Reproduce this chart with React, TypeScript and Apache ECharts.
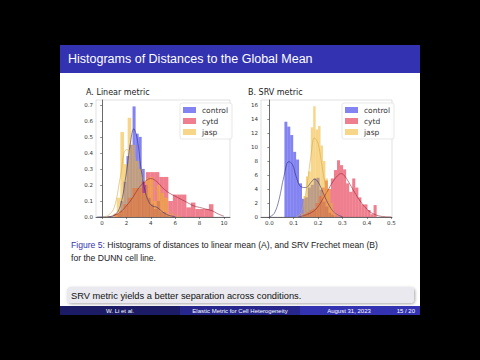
import React, { useEffect, useRef } from 'react';
import * as echarts from 'echarts';

// ---------- data ----------
const seriesNames = ['control', 'cytd', 'jasp'];

// Panel A: Linear metric (density)
const aCtlEdges = [1.25, 1.5, 1.75, 2.0, 2.25, 2.5, 2.75, 3.0, 3.25, 3.5, 3.75, 4.0, 4.25, 4.5, 4.75, 5.0, 5.25];
const aCtlHeights = [0.02, 0.1, 0.22, 0.38, 0.45, 0.69, 0.52, 0.5, 0.3, 0.2, 0.12, 0.08, 0.05, 0.1, 0.03, 0.03, 0.01];
const aCtlWidth = 0.25;

const aCytEdges = [1.0, 1.37, 1.74, 2.11, 2.48, 2.85, 3.22, 3.59, 3.96, 4.33, 4.7, 5.07, 5.44, 5.81, 6.18, 6.55, 6.92, 7.29, 7.66, 8.03, 8.4, 8.77];
const aCytHeights = [0.02, 0.04, 0.08, 0.12, 0.18, 0.18, 0.22, 0.28, 0.28, 0.28, 0.25, 0.25, 0.1, 0.14, 0.14, 0.14, 0.06, 0.09, 0.05, 0.05, 0.05, 0.08];
const aCytWidth = 0.37;

const aJasEdges = [0.9, 1.2, 1.5, 1.8, 2.1, 2.4, 2.7, 3.0, 3.3, 3.6, 3.9, 4.2, 4.5, 4.8, 5.1, 5.4];
const aJasHeights = [0.02, 0.12, 0.53, 0.33, 0.62, 0.45, 0.35, 0.3, 0.15, 0.24, 0.25, 0.1, 0.2, 0.15, 0.12, 0.02];
const aJasWidth = 0.3;

const aCtlKde = [[-0.4, 0], [0.5, 0.002], [1, 0.01], [1.5, 0.07], [2, 0.28], [2.3, 0.45], [2.6, 0.55], [2.9, 0.48], [3.2, 0.3], [3.5, 0.17], [3.8, 0.1], [4.1, 0.07], [4.5, 0.06], [5, 0.03], [5.5, 0.01], [6, 0.002]];
const aCytKde = [[0.5, 0], [1, 0.01], [1.5, 0.03], [2, 0.07], [2.5, 0.12], [3, 0.18], [3.5, 0.22], [4, 0.24], [4.5, 0.22], [5, 0.18], [5.5, 0.15], [6, 0.13], [6.5, 0.11], [7, 0.09], [7.5, 0.07], [8, 0.06], [8.5, 0.05], [9, 0.04], [9.5, 0.02], [10, 0.005]];
const aJasKde = [[0, 0], [0.5, 0.01], [1, 0.06], [1.5, 0.25], [2, 0.42], [2.5, 0.4], [3, 0.3], [3.5, 0.22], [4, 0.2], [4.5, 0.16], [5, 0.1], [5.5, 0.04], [6, 0.01], [6.5, 0]];

const aXTicks = [0, 2, 4, 6, 8, 10];
const aYTicks = [0, 0.1, 0.2, 0.3, 0.4, 0.5, 0.6, 0.7];

// Panel B: SRV metric (density)
const bCtlEdges = [0.062, 0.074, 0.086, 0.098, 0.11, 0.122, 0.134, 0.146, 0.158, 0.17, 0.182, 0.194, 0.206, 0.218, 0.23, 0.242, 0.254];
const bCtlHeights = [13.6, 12.9, 11.7, 9.3, 8.2, 4.8, 2.6, 2.8, 4.2, 4.6, 5.5, 5.6, 3.9, 2.2, 1.5, 0.6, 0.3];
const bCtlWidth = 0.012;

const bCytEdges = [0.14, 0.1525, 0.165, 0.1775, 0.19, 0.2025, 0.215, 0.2275, 0.24, 0.2525, 0.265, 0.2775, 0.29, 0.3025, 0.315, 0.3275, 0.34, 0.3525, 0.365, 0.3775, 0.39, 0.4025, 0.415, 0.4275];
const bCytHeights = [0.4, 0.7, 1.0, 1.2, 2.0, 3.0, 4.2, 5.2, 4.0, 5.5, 6.7, 8.1, 7.4, 6.8, 4.8, 3.6, 5.5, 4.2, 2.8, 1.8, 1.8, 1.0, 0.4, 1.7];
const bCytWidth = 0.0125;

const bJasEdges = [0.13, 0.14, 0.15, 0.16, 0.17, 0.18, 0.19, 0.2, 0.21, 0.22, 0.23, 0.24, 0.25, 0.26];
const bJasHeights = [0.5, 3.0, 5.8, 6.5, 12.8, 15.8, 12.5, 13.0, 10.2, 8.0, 5.5, 4.0, 2.0, 0.5];
const bJasWidth = 0.01;

const bCtlKde = [[0, 0], [0.02, 0.5], [0.04, 2.5], [0.06, 5.8], [0.08, 7.9], [0.095, 7.5], [0.11, 5.8], [0.13, 4.3], [0.15, 4.2], [0.17, 4.9], [0.185, 5.4], [0.2, 5.0], [0.22, 3.5], [0.24, 2.0], [0.26, 0.9], [0.28, 0.3], [0.3, 0.05]];
const bCytKde = [[0.12, 0], [0.15, 0.3], [0.18, 0.8], [0.2, 1.5], [0.22, 2.6], [0.24, 3.8], [0.26, 5.0], [0.28, 5.9], [0.295, 6.2], [0.31, 5.8], [0.33, 4.7], [0.35, 3.5], [0.37, 2.4], [0.39, 1.5], [0.41, 0.8], [0.43, 0.4], [0.45, 0.15], [0.48, 0.02], [0.5, 0]];
const bJasKde = [[0.11, 0], [0.13, 0.6], [0.15, 3.5], [0.17, 8.5], [0.185, 11.3], [0.2, 10.5], [0.215, 7.5], [0.23, 4.5], [0.25, 1.8], [0.27, 0.5], [0.29, 0.05]];

const bXTicks = [0, 0.1, 0.2, 0.3, 0.4, 0.5];
const bYTicks = [0, 2, 4, 6, 8, 10, 12, 14, 16];

// ---------- styling ----------
const barColor: Record<string, string> = {
  control: 'rgba(30,30,230,0.55)',
  cytd: 'rgba(225,20,50,0.55)',
  jasp: 'rgba(240,180,40,0.55)',
};
const kdeColor: Record<string, string> = {
  control: 'rgba(40,40,120,0.8)',
  cytd: 'rgba(140,30,45,0.8)',
  jasp: 'rgba(215,170,70,0.85)',
};
const SLIDE_FONT = 'Liberation Sans';
const PLOT_FONT = 'DejaVu Sans';

function histSeries(name: string, edges: number[], heights: number[], width: number, gi: number) {
  const color = barColor[name];
  return {
    type: 'custom',
    name,
    xAxisIndex: gi,
    yAxisIndex: gi,
    itemStyle: { color },
    encode: { x: [0, 1], y: 2 },
    data: edges.map((e, i) => [e, e + width, heights[i]]),
    renderItem: (_p: any, api: any) => {
      const a = api.coord([api.value(0), api.value(2)]);
      const b = api.coord([api.value(1), 0]);
      return {
        type: 'rect',
        shape: { x: a[0], y: a[1], width: b[0] - a[0], height: b[1] - a[1] },
        style: { fill: color },
      };
    },
  };
}

function kdeSeries(name: string, pts: number[][], gi: number) {
  return {
    type: 'line',
    name: name + ' kde',
    xAxisIndex: gi,
    yAxisIndex: gi,
    data: pts,
    smooth: 0.4,
    showSymbol: false,
    symbol: 'none',
    lineStyle: { color: kdeColor[name], width: 0.7 },
    z: 5,
  };
}

function xAxisCfg(gi: number, min: number, max: number, ticks: number[], fmt: (v: number) => string) {
  return {
    type: 'value',
    gridIndex: gi,
    min,
    max,
    axisLine: { show: true, onZero: false, lineStyle: { color: '#444', width: 0.8 } },
    axisTick: { show: true, customValues: ticks, length: 2, lineStyle: { color: '#444', width: 0.6 } },
    axisLabel: { customValues: ticks, formatter: fmt, fontSize: 5.5, color: '#333', margin: 3, fontFamily: PLOT_FONT },
    splitLine: { show: false },
  };
}

function yAxisCfg(gi: number, min: number, max: number, ticks: number[], fmt: (v: number) => string) {
  return {
    type: 'value',
    gridIndex: gi,
    min,
    max,
    axisLine: { show: true, lineStyle: { color: '#444', width: 0.8 } },
    axisTick: { show: true, customValues: ticks, length: 2, lineStyle: { color: '#444', width: 0.6 } },
    axisLabel: { customValues: ticks, formatter: fmt, fontSize: 5.5, color: '#333', margin: 3, fontFamily: PLOT_FONT },
    splitLine: { show: false },
  };
}

function legendCfg(left: number) {
  return {
    data: seriesNames,
    left,
    top: 103,
    orient: 'vertical',
    icon: 'rect',
    itemWidth: 13,
    itemHeight: 6,
    itemGap: 3,
    padding: [3, 4, 3, 3],
    borderColor: '#d8d8d8',
    borderWidth: 0.6,
    borderRadius: 2,
    backgroundColor: 'rgba(255,255,255,0.85)',
    textStyle: { fontSize: 7.5, color: '#333', fontFamily: PLOT_FONT, padding: [0, 0, 0, 1] },
    selectedMode: false,
  };
}

export default function App() {
  const ref = useRef<HTMLDivElement>(null);
  useEffect(() => {
    document.body.style.margin = '0';
    const chart = echarts.init(ref.current!, undefined, { renderer: 'svg' });
    const option: any = {
      animation: false,
      backgroundColor: '#000',
      grid: [
        { left: 96, top: 100, width: 134, height: 117, show: true, borderColor: '#cfcfcf', borderWidth: 0.6 },
        { left: 261, top: 100, width: 131, height: 117, show: true, borderColor: '#cfcfcf', borderWidth: 0.6 },
      ],
      xAxis: [
        xAxisCfg(0, -0.5, 10.5, aXTicks, (v) => String(v)),
        xAxisCfg(1, -0.034, 0.503, bXTicks, (v) => v.toFixed(1)),
      ],
      yAxis: [
        yAxisCfg(0, 0, 0.73, aYTicks, (v) => v.toFixed(1)),
        yAxisCfg(1, 0, 16.7, bYTicks, (v) => String(v)),
      ],
      legend: [legendCfg(180), legendCfg(342)],
      series: [
        histSeries('control', aCtlEdges, aCtlHeights, aCtlWidth, 0),
        histSeries('cytd', aCytEdges, aCytHeights, aCytWidth, 0),
        histSeries('jasp', aJasEdges, aJasHeights, aJasWidth, 0),
        kdeSeries('control', aCtlKde, 0),
        kdeSeries('cytd', aCytKde, 0),
        kdeSeries('jasp', aJasKde, 0),
        histSeries('control', bCtlEdges, bCtlHeights, bCtlWidth, 1),
        histSeries('cytd', bCytEdges, bCytHeights, bCytWidth, 1),
        histSeries('jasp', bJasEdges, bJasHeights, bJasWidth, 1),
        kdeSeries('control', bCtlKde, 1),
        kdeSeries('cytd', bCytKde, 1),
        kdeSeries('jasp', bJasKde, 1),
      ],
      graphic: [
        { type: 'rect', z: -100, shape: { x: 60, y: 45, width: 360, height: 270 }, style: { fill: '#ffffff' } },
        { type: 'rect', z: -99, shape: { x: 60, y: 45, width: 360, height: 28 }, style: { fill: '#3333b2' } },
        {
          type: 'text', x: 68, y: 59, z: 10,
          style: { text: 'Histograms of Distances to the Global Mean', fill: '#ffffff', fontSize: 12.5, fontFamily: SLIDE_FONT, verticalAlign: 'middle' },
        },
        { type: 'text', x: 86, y: 92, z: 10, style: { text: 'A. Linear metric', fill: '#222', fontSize: 8, fontFamily: PLOT_FONT, verticalAlign: 'middle' } },
        { type: 'text', x: 248, y: 92, z: 10, style: { text: 'B. SRV metric', fill: '#222', fontSize: 8, fontFamily: PLOT_FONT, verticalAlign: 'middle' } },
        {
          type: 'text', x: 71, y: 245, z: 10,
          style: {
            text: '{b|Figure 5:} Histograms of distances to linear mean (A), and SRV Frechet mean (B)',
            fill: '#222', fontSize: 8.6, fontFamily: SLIDE_FONT, verticalAlign: 'middle',
            rich: { b: { fill: '#3333b2', fontSize: 8.6, fontFamily: SLIDE_FONT } },
          },
        },
        { type: 'text', x: 71, y: 258, z: 10, style: { text: 'for the DUNN cell line.', fill: '#222', fontSize: 8.6, fontFamily: SLIDE_FONT, verticalAlign: 'middle' } },
        {
          type: 'rect', z: -50, shape: { x: 67, y: 287, width: 347, height: 16, r: 4 },
          style: { fill: '#e9e9ef', shadowBlur: 3, shadowColor: 'rgba(0,0,0,0.35)', shadowOffsetX: 1, shadowOffsetY: 1 },
        },
        { type: 'text', x: 71, y: 295.5, z: 10, style: { text: 'SRV metric yields a better separation across conditions.', fill: '#111', fontSize: 9.3, fontFamily: SLIDE_FONT, verticalAlign: 'middle' } },
        { type: 'rect', z: -40, shape: { x: 60, y: 306, width: 120, height: 9 }, style: { fill: '#1c1c66' } },
        { type: 'rect', z: -40, shape: { x: 180, y: 306, width: 120, height: 9 }, style: { fill: '#26268c' } },
        { type: 'rect', z: -40, shape: { x: 300, y: 306, width: 120, height: 9 }, style: { fill: '#3333b2' } },
        { type: 'text', x: 120, y: 310.5, z: 10, style: { text: 'W. Li et al.', fill: '#fff', fontSize: 6, fontFamily: SLIDE_FONT, align: 'center', verticalAlign: 'middle' } },
        { type: 'text', x: 240, y: 310.5, z: 10, style: { text: 'Elastic Metric for Cell Heterogeneity', fill: '#fff', fontSize: 6, fontFamily: SLIDE_FONT, align: 'center', verticalAlign: 'middle' } },
        { type: 'text', x: 349, y: 310.5, z: 10, style: { text: 'August 31, 2023', fill: '#fff', fontSize: 6, fontFamily: SLIDE_FONT, align: 'center', verticalAlign: 'middle' } },
        { type: 'text', x: 415, y: 310.5, z: 10, style: { text: '15 / 20', fill: '#fff', fontSize: 6, fontFamily: SLIDE_FONT, align: 'right', verticalAlign: 'middle' } },
      ],
    };
    chart.setOption(option);
    return () => chart.dispose();
  }, []);
  return <div ref={ref} style={{ position: 'fixed', left: 0, top: 0, width: 480, height: 360 }} />;
}
